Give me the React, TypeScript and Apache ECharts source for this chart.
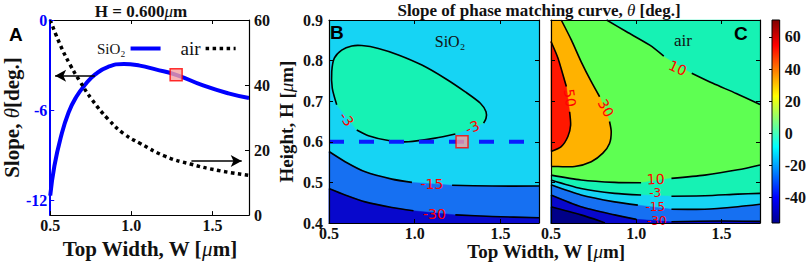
import React, { useEffect, useRef } from 'react';
import * as echarts from 'echarts';

type P = [number, number] | null;
type Label = [string, number, number, number];

// ---------- axes / ticks ----------
const widthRange = [0.5, 1.725];
const slopeRange = [-13, 0];
const airRange = [0, 60];
const heightRange = [0.4, 0.9];
const colorRange = [-56, 70.6];
const widthTicks = [0.5, 1.0, 1.5];
const slopeTicks = [-12, -6, 0];
const airTicks = [0, 20, 40, 60];
const heightTicks = [0.4, 0.5, 0.6, 0.7, 0.8, 0.9];
const colorTicks = [-40, -20, 0, 20, 40, 60];

// ---------- panel A ----------
const widthSiO2 = [0.5, 0.525, 0.564, 0.613, 0.662, 0.72, 0.779, 0.857, 0.954, 1.052, 1.149, 1.276, 1.442, 1.598, 1.725];
const slopeSiO2 = [-11.7, -9.77, -7.86, -6.16, -5.1, -4.25, -3.61, -3.12, -2.93, -3.04, -3.29, -3.65, -4.36, -4.89, -5.2];
const widthAir = [0.5, 0.564, 0.623, 0.681, 0.759, 0.857, 0.954, 1.052, 1.208, 1.364, 1.539, 1.725];
const slopeAir = [60, 52.1, 46.2, 41.3, 35.4, 29.5, 25.0, 22.1, 18.1, 15.7, 13.7, 12.2];
const markerWidth = 1.276;
const markerSlope = -3.65;
const markerHeight = 0.6;
const arrowSiO2 = [[0.775, -3.72], [0.53, -3.72]];
const arrowAir = [[1.37, 16.6], [1.68, 16.6]];

// ---------- panel B (SiO2) contours, [W, H]; null = label gap ----------
const bLoopM3: P[] = [
  [0.545, 0.691], [0.519, 0.732], [0.516, 0.773], [0.531, 0.806], [0.574, 0.826], [0.633, 0.836],
  [0.691, 0.837], [0.788, 0.83], [0.905, 0.814], [1.042, 0.789], [1.178, 0.756], [1.295, 0.723],
  [1.383, 0.695], [1.416, 0.674], [1.416, 0.658], [1.402, 0.646], null,
  [1.237, 0.619], [1.12, 0.609], [0.964, 0.6], [0.847, 0.603], [0.73, 0.615], [0.662, 0.629], null,
];
const bM15: P[] = [
  [0.5, 0.576], [0.594, 0.551], [0.711, 0.526], [0.867, 0.508], [0.984, 0.5], null,
  [1.218, 0.493], [1.451, 0.491], [1.725, 0.491],
];
const bM30: P[] = [
  [0.5, 0.485], [0.594, 0.469], [0.711, 0.452], [0.867, 0.438], [0.993, 0.43], null,
  [1.237, 0.42], [1.451, 0.416], [1.725, 0.413],
];
const bLabels: Label[] = [
  ['-3', 0.603, 0.656, -55],
  ['-3', 1.336, 0.636, 22],
  ['-15', 1.1, 0.496, 0],
  ['-30', 1.115, 0.422, 0],
];

// ---------- panel C (air) contours ----------
const cUpper10: P[] = [
  [0.826, 0.9], [0.943, 0.871], [1.079, 0.838], [1.161, 0.811], null,
  [1.325, 0.769], [1.449, 0.744], [1.586, 0.719], [1.725, 0.692],
];
const cC30: P[] = [
  [0.56, 0.9], [0.619, 0.851], [0.677, 0.797], [0.736, 0.748], [0.785, 0.711], null,
  [0.843, 0.65], [0.853, 0.625], [0.843, 0.596], [0.804, 0.572], [0.736, 0.551], [0.639, 0.539],
  [0.541, 0.539], [0.5, 0.539],
];
const cC50: P[] = [
  [0.5, 0.847], [0.541, 0.806], [0.57, 0.765], [0.59, 0.736], null,
  [0.609, 0.674], [0.615, 0.641], [0.599, 0.613], [0.56, 0.588], [0.5, 0.576],
];
const cLower10: P[] = [
  [0.5, 0.518], [0.676, 0.506], [0.873, 0.5], [1.028, 0.499], null,
  [1.206, 0.51], [1.401, 0.518], [1.595, 0.531], [1.725, 0.543],
];
const cM3: P[] = [
  [0.5, 0.506], [0.676, 0.485], [0.873, 0.473], [1.028, 0.469], null,
  [1.206, 0.466], [1.401, 0.467], [1.595, 0.471], [1.725, 0.473],
];
const cM15: P[] = [
  [0.5, 0.494], [0.676, 0.469], [0.873, 0.452], [1.009, 0.444], null,
  [1.206, 0.434], [1.401, 0.434], [1.595, 0.44], [1.725, 0.446],
];
const cM30: P[] = [
  [0.5, 0.469], [0.676, 0.44], [0.873, 0.42], [1.0, 0.409], null,
  [1.206, 0.403], [1.5, 0.405], [1.725, 0.404],
];
const cM45: P[] = [[0.5, 0.44], [0.676, 0.42], [0.786, 0.405], [0.816, 0.4]];
const cLabels: Label[] = [
  ['10', 1.243, 0.782, -25],
  ['30', 0.822, 0.683, -62],
  ['50', 0.611, 0.708, -82],
  ['10', 1.114, 0.508, 3],
];
const cLabelsStacked: Label[] = [
  ['-3', 1.111, 0.473, 0],
  ['-15', 1.111, 0.44, 0],
  ['-30', 1.12, 0.406, 0],
];

// band colours
const navy = '#000088';
const darkBlue = '#0808cc';
const blue = '#1670f2';
const cyan = '#16d4f4';
const aqua = '#16f2b4';
const lime = '#5eff52';
const orange = '#ffb200';
const red = '#ff1800';
const jetStops: [number, string][] = [
  [0, '#00008f'], [0.125, '#0000ff'], [0.375, '#00ffff'], [0.625, '#ffff00'], [0.875, '#ff0000'], [1, '#800000'],
];

const serif = "'Liberation Serif', 'Times New Roman', serif";
const sans = "'Liberation Sans', Arial, sans-serif";
const tickFont = { fontFamily: serif, fontWeight: 'bold' as const, fontSize: 16, color: '#111' };

const BL: [number, number] = [widthRange[0], heightRange[0]];
const BR: [number, number] = [widthRange[1], heightRange[0]];
const TL: [number, number] = [widthRange[0], heightRange[1]];
const TR: [number, number] = [widthRange[1], heightRange[1]];

function contourRender(
  fills: { pts: P[]; color: string }[],
  lines: P[][],
  labelGroups: { labels: Label[]; size: number }[],
) {
  return (_params: any, api: any) => {
    const toPx = (p: [number, number]) => api.coord(p);
    const children: any[] = [];
    fills.forEach((f) => {
      const pts = (f.pts.filter((p) => p !== null) as [number, number][]).map(toPx);
      children.push({ type: 'polygon', shape: { points: pts }, style: { fill: f.color, stroke: f.color, lineWidth: 0.5 } });
    });
    lines.forEach((line) => {
      let seg: number[][] = [];
      const flush = () => {
        if (seg.length > 1)
          children.push({
            type: 'polyline',
            shape: { points: seg, smooth: 0.25 },
            style: { stroke: '#000', lineWidth: 1.6, fill: 'none' },
          });
        seg = [];
      };
      line.forEach((p) => (p === null ? flush() : seg.push(toPx(p))));
      flush();
    });
    labelGroups.forEach(({ labels, size }) =>
      labels.forEach(([t, w, h, rot]) => {
        const [x, y] = api.coord([w, h]);
        children.push({
          type: 'text',
          x,
          y,
          rotation: (rot * Math.PI) / 180,
          style: {
            text: t, fill: '#ff0000', fontSize: size, lineHeight: size - 3, fontFamily: "'DejaVu Sans', sans-serif",
            align: 'center', verticalAlign: 'middle',
          },
        });
      }),
    );
    return { type: 'group', children };
  };
}

function xAx(grid: number, pos: 'top' | 'bottom', labels: boolean, name?: string, nameSize = 21) {
  return {
    type: 'value', gridIndex: grid, position: pos, min: widthRange[0], max: widthRange[1], z: 5,
    axisLine: { show: true, onZero: false, lineStyle: { color: '#000', width: 1.2 } },
    axisTick: { show: true, inside: true, length: 4, customValues: widthTicks, lineStyle: { color: '#000' } },
    axisLabel: { show: labels, margin: 2, customValues: widthTicks, formatter: (v: number) => v.toFixed(1), ...tickFont },
    splitLine: { show: false },
    name: name || '',
    nameLocation: 'middle',
    nameGap: 11,
    nameTextStyle: {
      rich: {
        n: { fontFamily: serif, fontWeight: 'bold', fontSize: nameSize, color: '#111' },
        i: { fontFamily: serif, fontStyle: 'italic', fontSize: nameSize, color: '#111' },
      },
    },
  };
}

function hAx(grid: number, pos: 'left' | 'right', labels: boolean, name?: string) {
  return {
    type: 'value', gridIndex: grid, position: pos, min: heightRange[0], max: heightRange[1], z: 5,
    axisLine: { show: true, onZero: false, lineStyle: { color: '#000', width: 1.2 } },
    axisTick: { show: true, inside: true, length: 4, customValues: heightTicks, lineStyle: { color: '#000' } },
    axisLabel: { show: labels, margin: 6, customValues: heightTicks, formatter: (v: number) => v.toFixed(1), ...tickFont },
    splitLine: { show: false },
    name: name || '',
    nameLocation: 'middle',
    nameGap: 33,
    nameRotate: 90,
    nameTextStyle: {
      rich: {
        n: { fontFamily: serif, fontWeight: 'bold', fontSize: 19, color: '#111' },
        i: { fontFamily: serif, fontStyle: 'italic', fontSize: 19, color: '#111' },
      },
    },
  };
}

export default function App() {
  const ref = useRef<HTMLDivElement>(null);
  useEffect(() => {
    document.body.style.margin = '0';
    const chart = echarts.init(ref.current!, undefined, { renderer: 'svg' });
    const option: any = {
      animation: false,
      backgroundColor: '#fff',
      grid: [
        { left: 39, top: 20, width: 210, height: 203 },
        { left: 329, top: 20, width: 210, height: 203, show: true, backgroundColor: cyan, borderWidth: 0 },
        { left: 551, top: 20, width: 209, height: 203, show: true, backgroundColor: lime, borderWidth: 0 },
        { left: 772, top: 20, width: 11, height: 203 },
      ],
      legend: {
        left: 92, top: 34, align: 'right', itemWidth: 30, itemHeight: 14, itemGap: 18,
        itemStyle: { opacity: 0, borderWidth: 0 },
        data: [
          { name: 'SiO₂', lineStyle: { width: 4 }, textStyle: { fontFamily: serif, fontSize: 15, color: '#111' } },
          { name: 'air', lineStyle: { width: 3.5, type: [3.5, 3.5] }, textStyle: { fontFamily: serif, fontSize: 19, color: '#111' } },
        ],
      },
      xAxis: [
        xAx(0, 'bottom', true, '{n|Top Width, W [}{i|μ}{n|m]}', 21),
        xAx(0, 'top', false),
        xAx(1, 'bottom', true),
        xAx(1, 'top', false),
        xAx(2, 'bottom', true),
        xAx(2, 'top', false),
        { type: 'value', gridIndex: 3, min: 0, max: 1, show: false },
      ],
      yAxis: [
        {
          type: 'value', gridIndex: 0, position: 'left', min: slopeRange[0], max: slopeRange[1], z: 5,
          axisLine: { show: true, lineStyle: { color: '#0000ff', width: 2 } },
          axisTick: { show: true, inside: true, length: 4, customValues: slopeTicks, lineStyle: { color: '#0000ff' } },
          axisLabel: { margin: 3, customValues: slopeTicks, ...tickFont, color: '#0000ff' },
          splitLine: { show: false },
          name: '{n|Slope, }{i|θ}{n|[deg.]}',
          nameLocation: 'middle', nameGap: 16, nameRotate: 90,
          nameTextStyle: {
            rich: {
              n: { fontFamily: serif, fontWeight: 'bold', fontSize: 21, color: '#111' },
              i: { fontFamily: serif, fontStyle: 'italic', fontSize: 21, color: '#111' },
            },
          },
        },
        {
          type: 'value', gridIndex: 0, position: 'right', min: airRange[0], max: airRange[1], z: 5,
          axisLine: { show: true, lineStyle: { color: '#000', width: 1.2 } },
          axisTick: { show: true, inside: true, length: 4, customValues: airTicks, lineStyle: { color: '#000' } },
          axisLabel: { margin: 5, customValues: airTicks, ...tickFont },
          splitLine: { show: false },
        },
        hAx(1, 'left', true, '{n|Height, H [}{i|μ}{n|m]}'),
        hAx(1, 'right', false),
        hAx(2, 'left', false),
        hAx(2, 'right', false),
        {
          type: 'value', gridIndex: 3, position: 'right', min: colorRange[0], max: colorRange[1], z: 5,
          axisLine: { show: false },
          axisTick: { show: true, inside: true, length: 3, customValues: colorTicks, lineStyle: { color: '#000' } },
          axisLabel: { margin: 5, customValues: colorTicks, ...tickFont },
          splitLine: { show: false },
        },
      ],
      series: [
        {
          name: 'SiO₂', type: 'line', xAxisIndex: 0, yAxisIndex: 0,
          data: widthSiO2.map((w, i) => [w, slopeSiO2[i]]),
          smooth: true, showSymbol: false, symbol: 'none',
          lineStyle: { color: '#0000ff', width: 4 }, itemStyle: { color: '#0000ff' },
          markLine: {
            silent: true, symbol: ['none', 'arrow'], symbolSize: [9, 11],
            lineStyle: { color: '#000', width: 1.5, type: 'solid' }, label: { show: false },
            data: [[{ coord: arrowSiO2[0] }, { coord: arrowSiO2[1] }]],
          },
        },
        {
          name: 'air', type: 'line', xAxisIndex: 0, yAxisIndex: 1,
          data: widthAir.map((w, i) => [w, slopeAir[i]]),
          smooth: true, showSymbol: false, symbol: 'none',
          lineStyle: { color: '#000', width: 3.5, type: [3.5, 3.5] }, itemStyle: { color: '#000' },
          markLine: {
            silent: true, symbol: ['none', 'arrow'], symbolSize: [9, 11],
            lineStyle: { color: '#000', width: 1.5, type: 'solid' }, label: { show: false },
            data: [[{ coord: arrowAir[0] }, { coord: arrowAir[1] }]],
          },
        },
        {
          name: 'markA', type: 'scatter', xAxisIndex: 0, yAxisIndex: 0, z: 6,
          data: [[markerWidth, markerSlope]], symbol: 'rect', symbolSize: 12,
          itemStyle: { color: '#f6a0a0', borderColor: '#ff0000', borderWidth: 1.5 },
        },
        {
          name: 'contourB', type: 'custom', xAxisIndex: 2, yAxisIndex: 2, data: [[0.5, 0.4]], silent: true,
          renderItem: contourRender(
            [
              { pts: bLoopM3, color: aqua },
              { pts: [...bM15, BR, BL], color: blue },
              { pts: [...bM30, BR, BL], color: darkBlue },
            ],
            [bLoopM3, bM15, bM30],
            [{ labels: bLabels, size: 14 }],
          ),
        },
        {
          name: 'cut', type: 'line', xAxisIndex: 2, yAxisIndex: 2, z: 4,
          data: [[widthRange[0], markerHeight], [widthRange[1], markerHeight]], symbol: 'none',
          lineStyle: { color: '#0a1cff', width: 4, type: [15, 15] },
        },
        {
          name: 'markB', type: 'scatter', xAxisIndex: 2, yAxisIndex: 2, z: 6,
          data: [[markerWidth, markerHeight]], symbol: 'rect', symbolSize: 12,
          itemStyle: { color: '#f6a0a0', borderColor: '#ff0000', borderWidth: 1.5 },
        },
        {
          name: 'contourC', type: 'custom', xAxisIndex: 4, yAxisIndex: 4, data: [[0.5, 0.4]], silent: true,
          renderItem: contourRender(
            [
              { pts: [...cUpper10, TR], color: aqua },
              { pts: [...cC30, TL], color: orange },
              { pts: cC50, color: red },
              { pts: [...cLower10, BR, BL], color: aqua },
              { pts: [...cM3, BR, BL], color: cyan },
              { pts: [...cM15, BR, BL], color: blue },
              { pts: [...cM30, BR, BL], color: darkBlue },
              { pts: [...cM45, BL], color: navy },
            ],
            [cUpper10, cC30, cC50, cLower10, cM3, cM15, cM30, cM45],
            [
              { labels: cLabels, size: 14 },
              { labels: cLabelsStacked, size: 12 },
            ],
          ),
        },
        {
          name: 'colorbar', type: 'custom', xAxisIndex: 6, yAxisIndex: 6, data: [[0, 0]], silent: true,
          renderItem: (_p: any, api: any) => {
            const a = api.coord([0, colorRange[0]]);
            const b = api.coord([1, colorRange[1]]);
            return {
              type: 'rect',
              shape: { x: a[0], y: b[1], width: b[0] - a[0], height: a[1] - b[1] },
              style: {
                fill: new echarts.graphic.LinearGradient(0, 1, 0, 0, jetStops.map(([o, c]) => ({ offset: o, color: c }))),
                stroke: '#000', lineWidth: 1,
              },
            };
          },
        },
      ],
      graphic: [
        { type: 'text', x: 141, y: 11, style: { text: '{n|H = 0.600}{i|μ}{n|m}', align: 'center', verticalAlign: 'middle',
          rich: { n: { fontFamily: serif, fontWeight: 'bold', fontSize: 17, fill: '#111' }, i: { fontFamily: serif, fontStyle: 'italic', fontSize: 17, fill: '#111' } } } },
        { type: 'text', x: 539, y: 10, style: { text: '{n|Slope of phase matching curve, }{i|θ}{n| [deg.]}', align: 'center', verticalAlign: 'middle',
          rich: { n: { fontFamily: serif, fontWeight: 'bold', fontSize: 17, fill: '#111' }, i: { fontFamily: serif, fontStyle: 'italic', fontSize: 17, fill: '#111' } } } },
        { type: 'text', x: 546, y: 251, style: { text: '{n|Top Width, W [}{i|μ}{n|m]}', align: 'center', verticalAlign: 'middle',
          rich: { n: { fontFamily: serif, fontWeight: 'bold', fontSize: 19, fill: '#111' }, i: { fontFamily: serif, fontStyle: 'italic', fontSize: 19, fill: '#111' } } } },
        { type: 'text', x: 9, y: 34, style: { text: 'A', fontFamily: sans, fontWeight: 'bold', fontSize: 19, fill: '#000', align: 'left', verticalAlign: 'middle' } },
        { type: 'text', x: 330, y: 32, z: 10, style: { text: 'B', fontFamily: sans, fontWeight: 'bold', fontSize: 19, fill: '#000', align: 'left', verticalAlign: 'middle' } },
        { type: 'text', x: 734, y: 33, z: 10, style: { text: 'C', fontFamily: sans, fontWeight: 'bold', fontSize: 19, fill: '#000', align: 'left', verticalAlign: 'middle' } },
        { type: 'text', x: 450, y: 41, z: 10, style: { text: 'SiO₂', fontFamily: serif, fontSize: 16, fill: '#111', align: 'center', verticalAlign: 'middle' } },
        { type: 'text', x: 683, y: 40, z: 10, style: { text: 'air', fontFamily: serif, fontSize: 17, fill: '#111', align: 'center', verticalAlign: 'middle' } },
      ],
    };
    chart.setOption(option);
    return () => chart.dispose();
  }, []);
  return <div ref={ref} style={{ width: 809, height: 264 }} />;
}
